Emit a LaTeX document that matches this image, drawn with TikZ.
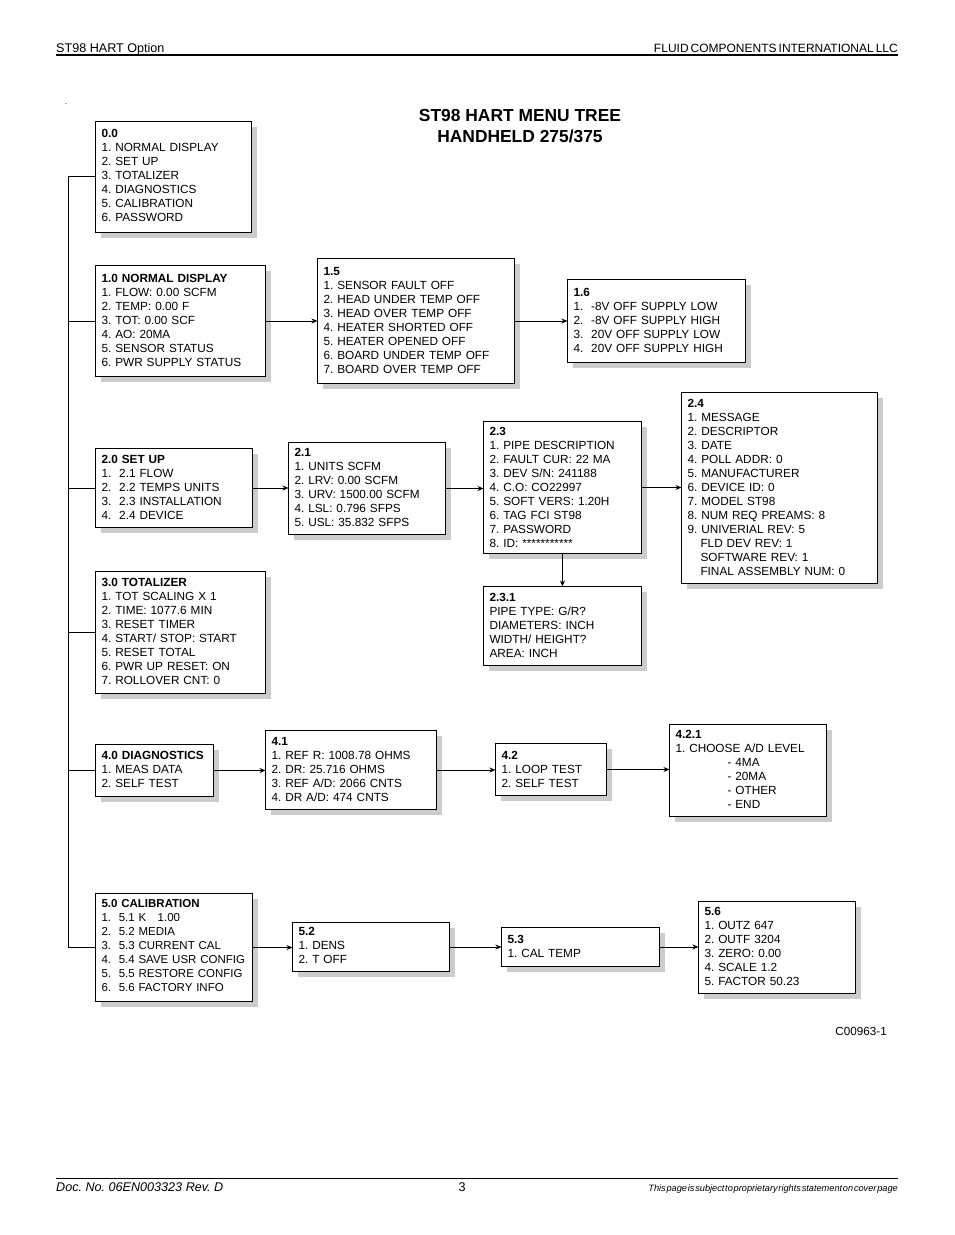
\documentclass[tikz,border=0pt]{standalone}
\usepackage{fontspec}
\setmainfont{Liberation Sans}
\usetikzlibrary{shadows,arrows.meta}
\frenchspacing
\tikzset{
  menubox/.style n args={3}{draw,line width=1pt,fill=white,anchor=north west,align=left,outer sep=0pt,
    xshift=-.5pt,yshift=.5pt,inner xsep=6pt,inner ysep=6pt,text width=#1pt-12pt,
    text height=#3pt-5pt,text depth=#2pt-#3pt-7pt,
    font=\fontsize{11.8}{14}\selectfont,
    drop shadow={shadow xshift=5pt,shadow yshift=-5pt,fill=black!20,opacity=1}},
  branch/.style={line width=1pt},
  flow/.style={line width=1pt,-{Stealth[length=6pt,width=5pt]}},
  pagetext/.style={inner sep=0pt,font=\fontsize{12.6}{14}\selectfont}
}
\begin{document}
\begin{tikzpicture}[x=1pt,y=-1pt]
  \useasboundingbox (0,0) rectangle (954,1235);
  % page head and foot
  \coordinate (headl) at (56,55);
  \coordinate (headr) at (898,55);
  \coordinate (footl) at (56,1178);
  \coordinate (footr) at (898,1178);
  \draw[line width=2pt] (headl) -- (headr);
  \draw[line width=.8pt] (footl) -- (footr);
  \node[pagetext,anchor=base west] (headleft) at (56,52) {ST98 HART Option};
  \node[pagetext,anchor=base east,font=\fontsize{12}{14}\selectfont] (headright) at (898,52) {\spaceskip=2pt FLUID COMPONENTS INTERNATIONAL LLC};
  \node[pagetext,anchor=base west] (footleft) at (56,1191) {\itshape Doc. No. 06EN003323 Rev. D};
  \node[pagetext,anchor=base] (pagenum) at (462,1191) {3};
  \node[pagetext,anchor=base east,font=\fontsize{9.2}{11}\selectfont\itshape] (footright) at (898,1191) {\spaceskip=.8pt This page is subject to proprietary rights statement on cover page};
  \node[pagetext,anchor=base] (dot) at (66,104) {\fontsize{8}{8}\selectfont .};
  \node[pagetext,anchor=base east,font=\fontsize{11.7}{14}\selectfont] (figno) at (887,1035) {C00963-1};
  \node[inner sep=0pt,align=center,font=\fontsize{17.4}{21.5}\selectfont\bfseries,anchor=north] (title) at (520,109) {ST98 HART MENU TREE\\HANDHELD 275/375};
  % menu boxes
  \node[menubox={156}{111}{15}] (m00) at (96,122) {\textbf{0.0}\\1. NORMAL DISPLAY\\2. SET UP\\3. TOTALIZER\\4. DIAGNOSTICS\\5. CALIBRATION\\6. PASSWORD};
  \node[menubox={170}{111}{16}] (m10) at (96,266) {\textbf{1.0 NORMAL DISPLAY}\\1. FLOW: 0.00 SCFM\\2. TEMP: 0.00 F\\3. TOT: 0.00 SCF\\4. AO: 20MA\\5. SENSOR STATUS\\6. PWR SUPPLY STATUS};
  \node[menubox={197}{125}{16}] (m15) at (318,259) {\textbf{1.5}\\1. SENSOR FAULT OFF\\2. HEAD UNDER TEMP OFF\\3. HEAD OVER TEMP OFF\\4. HEATER SHORTED OFF\\5. HEATER OPENED OFF\\6. BOARD UNDER TEMP OFF\\7. BOARD OVER TEMP OFF};
  \node[menubox={178}{83}{16}] (m16) at (568,280) {\textbf{1.6}\\1.\ \ -8V OFF SUPPLY LOW\\2.\ \ -8V OFF SUPPLY HIGH\\3.\ \ 20V OFF SUPPLY LOW\\4.\ \ 20V OFF SUPPLY HIGH};
  \node[menubox={157}{79}{14}] (m20) at (96,449) {\textbf{2.0 SET UP}\\1.\ \ 2.1 FLOW\\2.\ \ 2.2 TEMPS UNITS\\3.\ \ 2.3 INSTALLATION\\4.\ \ 2.4 DEVICE};
  \node[menubox={157}{92}{13}] (m21) at (289,443) {\textbf{2.1}\\1. UNITS SCFM\\2. LRV: 0.00 SCFM\\3. URV: 1500.00 SCFM\\4. LSL: 0.796 SFPS\\5. USL: 35.832 SFPS};
  \node[menubox={158}{132}{13}] (m23) at (484,422) {\textbf{2.3}\\1. PIPE DESCRIPTION\\2. FAULT CUR: 22 MA\\3. DEV S/N: 241188\\4. C.O: CO22997\\5. SOFT VERS: 1.20H\\6. TAG FCI ST98\\7. PASSWORD\\8. ID: ***********};
  \node[menubox={158}{79}{14}] (m231) at (484,587) {\textbf{2.3.1}\\PIPE TYPE: G/R?\\DIAMETERS: INCH\\WIDTH/ HEIGHT?\\AREA: INCH};
  \node[menubox={196}{191}{14}] (m24) at (682,393) {\textbf{2.4}\\1. MESSAGE\\2. DESCRIPTOR\\3. DATE\\4. POLL ADDR: 0\\5. MANUFACTURER\\6. DEVICE ID: 0\\7. MODEL ST98\\8. NUM REQ PREAMS: 8\\9. UNIVERIAL REV: 5\\\hspace*{13pt}FLD DEV REV: 1\\\hspace*{13pt}SOFTWARE REV: 1\\\hspace*{13pt}FINAL ASSEMBLY NUM: 0};
  \node[menubox={170}{122}{14}] (m30) at (96,572) {\textbf{3.0 TOTALIZER}\\1. TOT SCALING X 1\\2. TIME: 1077.6 MIN\\3. RESET TIMER\\4. START/ STOP: START\\5. RESET TOTAL\\6. PWR UP RESET: ON\\7. ROLLOVER CNT: 0};
  \node[menubox={118}{52}{14}] (m40) at (96,745) {\textbf{4.0 DIAGNOSTICS}\\1. MEAS DATA\\2. SELF TEST};
  \node[menubox={171}{79}{14}] (m41) at (266,731) {\textbf{4.1}\\1. REF R: 1008.78 OHMS\\2. DR: 25.716 OHMS\\3. REF A/D: 2066 CNTS\\4. DR A/D: 474 CNTS};
  \node[menubox={111}{52}{15}] (m42) at (496,744) {\textbf{4.2}\\1. LOOP TEST\\2. SELF TEST};
  \node[menubox={157}{92}{13}] (m421) at (670,725) {\textbf{4.2.1}\\1. CHOOSE A/D LEVEL\\\hspace*{52pt}- 4MA\\\hspace*{52pt}- 20MA\\\hspace*{52pt}- OTHER\\\hspace*{52pt}- END};
  \node[menubox={157}{108}{13},font=\fontsize{11.5}{14}\selectfont] (m50) at (96,894) {\textbf{5.0 CALIBRATION}\\1.\ \ 5.1 K\ \ \ 1.00\\2.\ \ 5.2 MEDIA\\3.\ \ 5.3 CURRENT CAL\\4.\ \ 5.4 SAVE USR CONFIG\\5.\ \ 5.5 RESTORE CONFIG\\6.\ \ 5.6 FACTORY INFO};
  \node[menubox={157}{49}{12}] (m52) at (293,923) {\textbf{5.2}\\1. DENS\\2. T OFF};
  \node[menubox={158}{39}{15}] (m53) at (502,928) {\textbf{5.3}\\1. CAL TEMP};
  \node[menubox={157}{92}{13}] (m56) at (699,902) {\textbf{5.6}\\1. OUTZ 647\\2. OUTF 3204\\3. ZERO: 0.00\\4. SCALE 1.2\\5. FACTOR 50.23};
  % trunk on the left
  \coordinate (trunktop) at (68,176);
  \coordinate (trunkend) at (68,947);
  \draw[branch] (trunktop) -- (trunkend);
  \draw[branch] (trunktop) -- (trunktop -| m00.west);
  \foreach \m in {m10,m20,m30,m40,m50}
    \draw[branch] (trunktop |- \m.west) -- (\m.west);
  % arrows between menus
  \foreach \a/\b in {m10/m15,m15/m16,m20/m21,m21/m23,m23/m24,m40/m41,m41/m42,m42/m421,m50/m52,m52/m53,m53/m56}
    \draw[flow] (\a.east) -- (\a.east -| \b.west);
  \draw[flow] (m23.south) -- (m231.north);
\end{tikzpicture}
\end{document}
